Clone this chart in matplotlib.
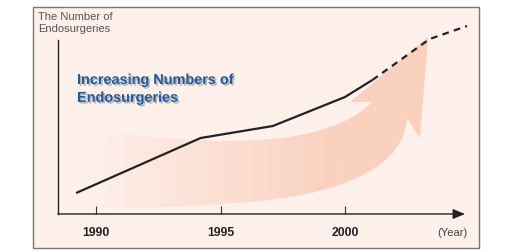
import matplotlib
matplotlib.use('Agg')
import matplotlib.pyplot as plt
import numpy as np
from matplotlib.path import Path
from matplotlib.patches import PathPatch, Rectangle
import matplotlib.patheffects as pe

plt.rcParams['font.family'] = ['Liberation Sans', 'DejaVu Sans']

# data (y in arbitrary units)
years = [1989.2, 1994.2, 1997.1, 2000.0, 2001.1]
counts = [21, 76, 88, 117, 134]
proj_years = [2001.1, 2003.4, 2004.9]
proj_counts = [134, 175, 188]
tick_years = [1990, 1995, 2000]

W, H = 517, 252
fig = plt.figure(figsize=(W / 100, H / 100), dpi=100)

# background layer in pixel coords
bg = fig.add_axes([0, 0, 1, 1])
bg.set_xlim(0, W)
bg.set_ylim(H, 0)
bg.axis('off')
bg.add_patch(Rectangle((33, 7), 446, 241, fc='#FEF0EA', ec='#777777', lw=1))

# the big decorative arrow, gradient filled
verts = [(107, 132),
         (230, 148), (330, 145), (372, 102),
         (350, 102), (428, 37), (420, 138), (407, 118),
         (404, 160), (360, 190), (260, 201),
         (200, 206), (150, 208), (107, 208),
         (107, 132)]
codes = [Path.MOVETO,
         Path.CURVE4, Path.CURVE4, Path.CURVE4,
         Path.LINETO, Path.LINETO, Path.LINETO, Path.LINETO,
         Path.CURVE4, Path.CURVE4, Path.CURVE4,
         Path.CURVE4, Path.CURVE4, Path.CURVE4,
         Path.CLOSEPOLY]
shape = PathPatch(Path(verts, codes), fc='none', ec='none')
bg.add_patch(shape)

c0 = np.array([254, 240, 234]) / 255
c1 = np.array([250, 208, 190]) / 255
xs = np.linspace(100, 440, 400)
t = np.clip((xs - 100) / (340 - 100), 0, 1)
t = 0.04 + 0.96 * t
grad = c0[None, :] * (1 - t[:, None]) + c1[None, :] * t[:, None]
img = bg.imshow(grad[None, :, :], extent=(100, 440, 215, 30), aspect='auto',
                interpolation='bilinear', zorder=1)
img.set_clip_path(shape)
bg.set_xlim(0, W)
bg.set_ylim(H, 0)

# labels
bg.text(38, 12, 'The Number of\nEndosurgeries', fontsize=8, color='#555555',
        va='top', ha='left', linespacing=1.2)
bg.text(77, 73, 'Increasing Numbers of\nEndosurgeries', fontsize=10.4,
        fontweight='bold', color='#1F5A9E', va='top', ha='left', linespacing=1.35,
        path_effects=[pe.SimplePatchShadow(offset=(1.2, -1.2), shadow_rgbFace='#9a9a9a', alpha=0.7),
                      pe.Normal()])
bg.text(452, 233, '(Year)', fontsize=8, color='#444444', ha='center', va='center')

# data axes
ax = fig.add_axes([58 / W, (H - 214) / H, (465 - 58) / W, (214 - 40) / H])
ax.patch.set_alpha(0)
ax.set_xlim(1988.47, 2004.82)
ax.set_ylim(0, 174)
for s in ['top', 'right', 'bottom']:
    ax.spines[s].set_visible(False)
ax.spines['left'].set_color('#222222')
ax.spines['left'].set_linewidth(1)
ax.set_yticks([])
ax.set_xticks(tick_years)
ax.set_xticklabels([str(y) for y in tick_years], fontweight='bold', fontsize=8.8, color='#222222')
ax.tick_params(axis='x', direction='in', length=6, width=0.8, color='#333333', pad=9)
ax.annotate('', xy=(1.0, 0), xytext=(0, 0), xycoords='axes fraction',
            arrowprops=dict(arrowstyle='-|>,head_length=0.6,head_width=0.25',
                            color='#222222', lw=1, mutation_scale=12,
                            shrinkA=0, shrinkB=0))

ax.plot(years, counts, color='#222222', lw=1.6, solid_capstyle='butt', zorder=3)
ax.plot(proj_years, proj_counts, color='#222222', lw=1.6, dashes=(3, 2.4),
        clip_on=False, zorder=3)

fig.savefig('out.png', dpi=100)
